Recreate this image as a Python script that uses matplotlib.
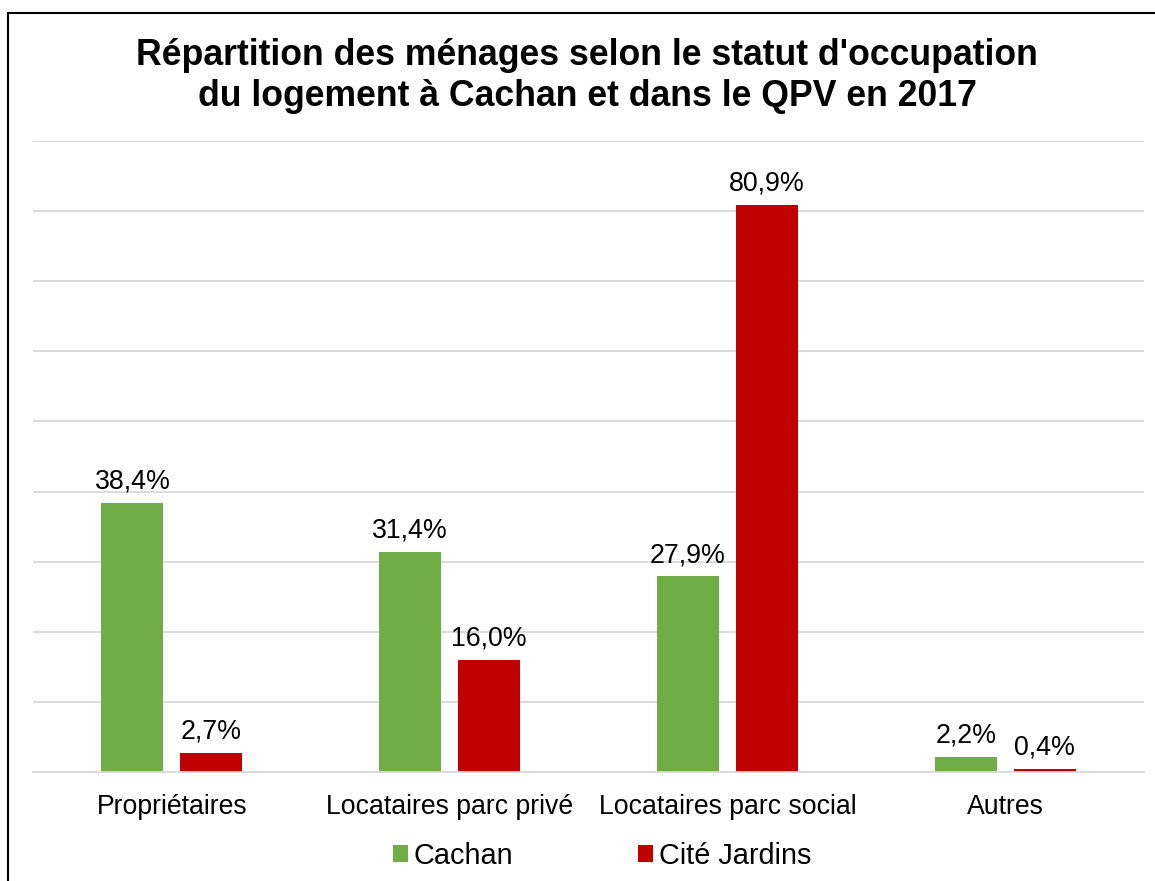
import matplotlib
matplotlib.use("Agg")
import matplotlib.pyplot as plt
import numpy as np
from matplotlib.patches import Rectangle

plt.rcParams["font.family"] = ["Liberation Sans", "DejaVu Sans"]

categories = ["Propriétaires", "Locataires parc privé", "Locataires parc social", "Autres"]
cachan = [38.4, 31.4, 27.9, 2.2]
cite_jardins = [2.7, 16.0, 80.9, 0.4]
series_names = ["Cachan", "Cité Jardins"]

GREEN = "#70AD47"
RED = "#C00000"
GRID = "#D9D9D9"

fig = plt.figure(figsize=(11.55, 8.81), dpi=100)
fig.patch.set_facecolor("white")
ax = fig.add_axes([33/1155, 1 - 772/881, 1111/1155, 631/881])

x = np.arange(len(categories))
w = 0.223
b1 = ax.bar(x - 0.142, cachan, w, color=GREEN, label=series_names[0], zorder=2)
b2 = ax.bar(x + 0.142, cite_jardins, w, color=RED, label=series_names[1], zorder=2)

def fmt(v):
    return f"{v:.1f}%".replace(".", ",")

for bars, vals in ((b1, cachan), (b2, cite_jardins)):
    for r, v in zip(bars, vals):
        ax.annotate(fmt(v), (r.get_x() + r.get_width()/2, v), xytext=(0, 6),
                    textcoords="offset points", ha="center", va="bottom",
                    fontsize=19.3, color="black")

ax.set_xlim(-0.5, len(categories) - 0.5)
ax.set_ylim(0, 90)
ax.set_yticks(np.arange(0, 91, 10))
ax.yaxis.grid(True, color=GRID, lw=1.3, zorder=0)
ax.tick_params(axis="y", left=False, labelleft=False)
ax.tick_params(axis="x", bottom=False, labelsize=19.2, pad=12)
ax.set_xticks(x)
ax.set_xticklabels(categories)
for s in ("top", "right", "left"):
    ax.spines[s].set_visible(False)
ax.spines["bottom"].set_color(GRID)
ax.spines["bottom"].set_linewidth(1.3)

fig.text(587/1155, 1 - 76/881, "Répartition des ménages selon le statut d'occupation\n"
         "du logement à Cachan et dans le QPV en 2017",
         ha="center", va="center", fontsize=25.7, weight="bold", linespacing=1.22)

fig.legend(handles=[b1, b2], loc="center", bbox_to_anchor=(602/1155, 1 - 856/881),
           ncol=2, frameon=False, fontsize=20.8, handlelength=0.52, handleheight=0.52,
           handletextpad=0.2, columnspacing=4.3)

# cadre du graphique
fig.add_artist(Rectangle((8/1155, -0.05), 1.2, 1 - 13/881 + 0.05,
                         transform=fig.transFigure, fill=False,
                         edgecolor="black", lw=1.5))

fig.savefig("out.png", dpi=100, facecolor="white")
